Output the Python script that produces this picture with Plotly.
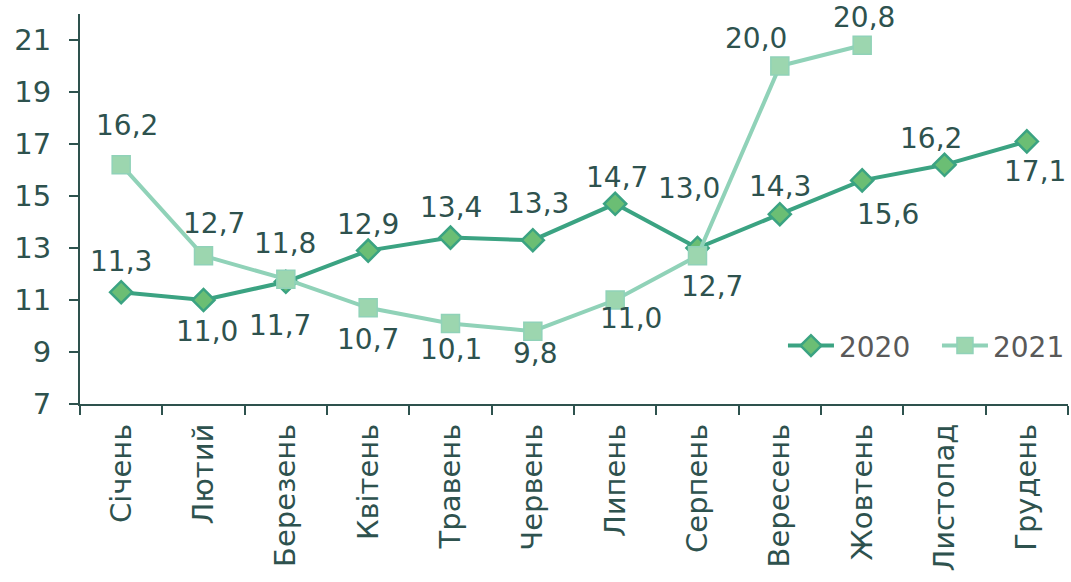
import plotly.graph_objects as go

months = ["Січень", "Лютий", "Березень", "Квітень", "Травень", "Червень",
          "Липень", "Серпень", "Вересень", "Жовтень", "Листопад", "Грудень"]
values_2020 = [11.3, 11.0, 11.7, 12.9, 13.4, 13.3, 14.7, 13.0, 14.3, 15.6, 16.2, 17.1]
values_2021 = [16.2, 12.7, 11.8, 10.7, 10.1, 9.8, 11.0, 12.7, 20.0, 20.8]
y_ticks = [7, 9, 11, 13, 15, 17, 19, 21]

# label offsets (pixels) for data labels
shift_2020 = [(0, 31), (3, -31), (-6, -44), (0, 26), (0, 30), (5, 37), (2, 26), (-9, 60), (0, 28), (26, -34), (-14, 26), (8, -30)]
shift_2021 = [(6, 39), (10, 32), (-1, 36), (0, -32), (0, -26), (3, -22), (16, -18), (14, -31), (-24, 28), (2, 28)]

TEXT = "#2E524E"
FONT = "DejaVu Sans"
FS_LABEL = 28
FS_TICK = 29
FS_CAT = 29
FS_LEG = 28

c2020_line = "#3BA382"
c2020_fill = "#6BBE74"
c2021_line = "#90D2B8"
c2021_fill = "#9CD6AF"

fig = go.Figure()
fig.add_trace(go.Scatter(
    x=months, y=values_2020, name="2020", mode="lines+markers",
    line=dict(color=c2020_line, width=4),
    marker=dict(symbol="diamond", size=17, color=c2020_fill,
                line=dict(color=c2020_line, width=2.5)),
))
fig.add_trace(go.Scatter(
    x=months[:len(values_2021)], y=values_2021, name="2021", mode="lines+markers",
    line=dict(color=c2021_line, width=4),
    marker=dict(symbol="square", size=18, color=c2021_fill,
                line=dict(color=c2021_line, width=1.5)),
))

def fmt(v):
    return f"{v:.1f}".replace(".", ",")

annotations = []
for m, v, (dx, dy) in zip(months, values_2020, shift_2020):
    annotations.append(dict(x=m, y=v, text=fmt(v), showarrow=False,
                            xshift=dx, yshift=dy,
                            font=dict(family=FONT, size=FS_LABEL, color=TEXT)))
for m, v, (dx, dy) in zip(months, values_2021, shift_2021):
    annotations.append(dict(x=m, y=v, text=fmt(v), showarrow=False,
                            xshift=dx, yshift=dy,
                            font=dict(family=FONT, size=FS_LABEL, color=TEXT)))

fig.update_layout(
    width=1071, height=582,
    margin=dict(l=80, r=3, t=14, b=178, autoexpand=False),
    paper_bgcolor="white", plot_bgcolor="white",
    font=dict(family=FONT, size=FS_LABEL, color=TEXT),
    annotations=annotations,
    showlegend=True,
    legend=dict(orientation="h", x=0.7115, y=0.149, xanchor="left", yanchor="middle",
                font=dict(family=FONT, size=FS_LEG, color="#595959"),
                bgcolor="rgba(0,0,0,0)", itemwidth=46, tracegroupgap=0,
                entrywidth=93, entrywidthmode="pixels"),
    xaxis=dict(
        categoryorder="array", categoryarray=months,
        range=[-0.5, 11.5], automargin=False,
        showline=True, linecolor=TEXT, linewidth=2,
        ticks="outside", tickson="boundaries", ticklen=9, tickcolor=TEXT, tickwidth=2,
        tickangle=-90, showgrid=False, zeroline=False,
        tickfont=dict(family=FONT, size=FS_CAT, color=TEXT),
        ticklabelstandoff=6,
    ),
    yaxis=dict(
        range=[7, 22], tickvals=y_ticks, ticktext=[str(t) for t in y_ticks],
        automargin=False,
        showline=True, linecolor=TEXT, linewidth=2,
        ticks="outside", ticklen=9, tickcolor=TEXT, tickwidth=2,
        showgrid=False, zeroline=False,
        tickfont=dict(family=FONT, size=FS_TICK, color=TEXT),
        ticklabelstandoff=12,
    ),
)

fig.write_html("out.html", config={"displayModeBar": False},
               post_script="document.body.style.margin='0px';")
